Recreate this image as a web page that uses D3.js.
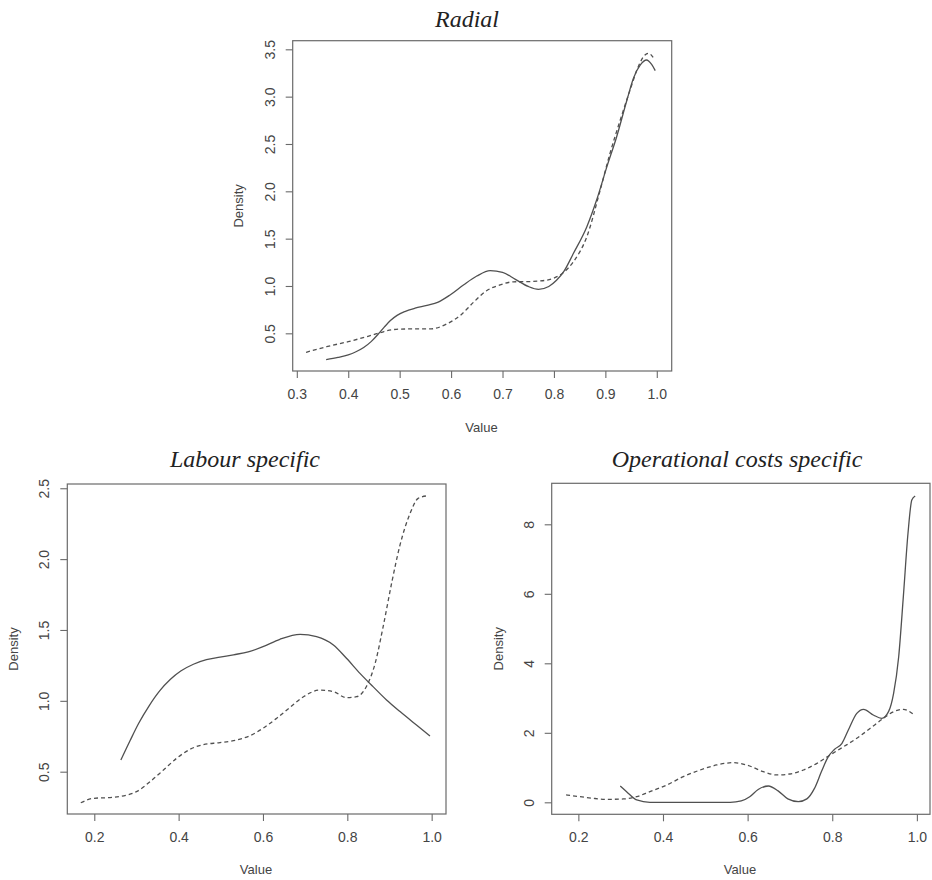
<!DOCTYPE html>
<html>
<head>
<meta charset="utf-8">
<script src="https://cdn.jsdelivr.net/npm/d3@7"></script>
<style>
  html, body { margin: 0; padding: 0; background: #fff; }
  svg { display: block; }
</style>
</head>
<body>
<svg id="chart" width="932" height="880"></svg>
<script>
// ---------------- DATA ----------------
const chartTitles = ["Radial", "Labour specific", "Operational costs specific"];
const xAxisLabel = "Value";
const yAxisLabel = "Density";

const radialXTicks = [0.3, 0.4, 0.5, 0.6, 0.7, 0.8, 0.9, 1.0];
const radialYTicks = [0.5, 1.0, 1.5, 2.0, 2.5, 3.0, 3.5];
const labourXTicks = [0.2, 0.4, 0.6, 0.8, 1.0];
const labourYTicks = [0.5, 1.0, 1.5, 2.0, 2.5];
const opXTicks = [0.2, 0.4, 0.6, 0.8, 1.0];
const opYTicks = [0, 2, 4, 6, 8];

// Radial — solid curve
const radialSolid = [
  [0.357,0.222],[0.380,0.245],[0.400,0.272],[0.415,0.305],[0.430,0.350],[0.445,0.415],
  [0.458,0.490],[0.470,0.565],[0.482,0.635],[0.495,0.690],[0.510,0.730],[0.530,0.765],
  [0.553,0.795],[0.575,0.830],[0.598,0.905],[0.624,1.010],[0.650,1.105],[0.676,1.162],
  [0.700,1.145],[0.725,1.070],[0.750,0.995],[0.770,0.965],[0.790,0.995],[0.805,1.060],
  [0.820,1.160],[0.838,1.345],[0.864,1.627],[0.883,1.908],[0.903,2.261],[0.922,2.577],
  [0.942,2.965],[0.955,3.200],[0.968,3.335],[0.980,3.387],[0.990,3.340],[0.997,3.275]
];
// Radial — dashed curve
const radialDashed = [
  [0.318,0.299],[0.358,0.359],[0.400,0.412],[0.436,0.465],[0.462,0.507],[0.488,0.540],
  [0.514,0.546],[0.559,0.546],[0.592,0.600],[0.618,0.690],[0.644,0.830],[0.669,0.950],
  [0.695,1.011],[0.721,1.044],[0.747,1.046],[0.773,1.053],[0.799,1.081],[0.818,1.140],
  [0.838,1.257],[0.864,1.521],[0.890,2.014],[0.909,2.401],[0.929,2.754],[0.948,3.070],
  [0.964,3.317],[0.977,3.440],[0.984,3.458],[0.994,3.405]
];
// Labour specific — solid curve
const labourSolid = [
  [0.263,0.582],[0.285,0.720],[0.305,0.840],[0.330,0.965],[0.355,1.070],[0.380,1.150],
  [0.405,1.210],[0.435,1.258],[0.466,1.290],[0.498,1.308],[0.530,1.325],[0.565,1.345],
  [0.600,1.382],[0.640,1.434],[0.688,1.469],[0.727,1.453],[0.767,1.394],[0.798,1.300],
  [0.830,1.194],[0.861,1.100],[0.893,1.006],[0.925,0.924],[0.964,0.829],[0.996,0.752]
];
// Labour specific — dashed curve
const labourDashed = [
  [0.168,0.281],[0.198,0.312],[0.245,0.319],[0.277,0.335],[0.300,0.359],[0.332,0.429],
  [0.364,0.512],[0.395,0.594],[0.427,0.658],[0.458,0.691],[0.498,0.705],[0.530,0.719],
  [0.569,0.754],[0.600,0.806],[0.632,0.876],[0.664,0.954],[0.696,1.029],[0.735,1.076],
  [0.767,1.065],[0.798,1.022],[0.822,1.029],[0.846,1.105],[0.866,1.265],[0.885,1.524],
  [0.905,1.829],[0.925,2.100],[0.949,2.324],[0.968,2.429],[0.988,2.446]
];
// Operational costs specific — solid curve
const opSolid = [
  [0.299,0.47],[0.314,0.307],[0.338,0.067],[0.369,0.0],[0.450,0.0],[0.559,0.0],
  [0.585,0.04],[0.605,0.16],[0.625,0.37],[0.649,0.47],[0.672,0.33],[0.695,0.10],
  [0.720,0.02],[0.740,0.10],[0.758,0.40],[0.775,0.90],[0.790,1.30],[0.805,1.52],
  [0.823,1.698],[0.838,2.08],[0.858,2.56],[0.874,2.676],[0.897,2.513],[0.917,2.417],
  [0.933,2.609],[0.945,3.137],[0.957,4.19],[0.968,5.918],[0.979,7.741],[0.988,8.7],[0.996,8.815]
];
// Operational costs specific — dashed curve
const opDashed = [
  [0.171,0.211],[0.204,0.163],[0.235,0.115],[0.267,0.086],[0.306,0.096],[0.338,0.163],
  [0.369,0.307],[0.409,0.499],[0.448,0.739],[0.488,0.93],[0.527,1.074],[0.566,1.141],
  [0.598,1.074],[0.637,0.883],[0.669,0.787],[0.700,0.815],[0.732,0.93],[0.764,1.122],
  [0.795,1.362],[0.827,1.602],[0.858,1.842],[0.890,2.13],[0.921,2.417],[0.945,2.609],
  [0.968,2.676],[0.992,2.532]
];

// ---------------- LAYOUT ----------------
const svg = d3.select("#chart");
const lineColor = "#505050";
const axisColor = "#6a6a6a";
const textColor = "#444";

const panels = [
  { title: chartTitles[0], box: {l: 292.7, r: 671.7, t: 40.7, b: 371},
    xDom: [0.292, 1.029], yDom: [0.102, 3.591],
    xTicks: radialXTicks, yTicks: radialYTicks, yFmt: d3.format(".1f"), xFmt: d3.format(".1f"),
    solid: radialSolid, dashed: radialDashed,
    titlePos: [467, 26.5], valuePos: [481.5, 432], densityX: 238 },
  { title: chartTitles[1], box: {l: 67.3, r: 446, t: 484, b: 814},
    xDom: [0.136, 1.034], yDom: [0.2015, 2.53],
    xTicks: labourXTicks, yTicks: labourYTicks, yFmt: d3.format(".1f"), xFmt: d3.format(".1f"),
    solid: labourSolid, dashed: labourDashed,
    titlePos: [245, 467], valuePos: [256, 873.5], densityX: 13 },
  { title: chartTitles[2], box: {l: 551.7, r: 930, t: 483.3, b: 814.3},
    xDom: [0.137, 1.031], yDom: [-0.345, 9.18],
    xTicks: opXTicks, yTicks: opYTicks, yFmt: d3.format("d"), xFmt: d3.format(".1f"),
    solid: opSolid, dashed: opDashed,
    titlePos: [737, 467], valuePos: [740, 873.5], densityX: 498 }
];

panels.forEach(p => {
  const g = svg.append("g");
  const x = d3.scaleLinear().domain(p.xDom).range([p.box.l, p.box.r]);
  const y = d3.scaleLinear().domain(p.yDom).range([p.box.b, p.box.t]);

  // box
  g.append("rect")
    .attr("x", p.box.l).attr("y", p.box.t)
    .attr("width", p.box.r - p.box.l).attr("height", p.box.b - p.box.t)
    .attr("fill", "none").attr("stroke", axisColor).attr("stroke-width", 1.2);

  // x axis
  const xa = g.append("g").attr("transform", `translate(0,${p.box.b})`)
    .call(d3.axisBottom(x).tickValues(p.xTicks).tickFormat(p.xFmt).tickSize(7).tickPadding(11));
  xa.select(".domain").remove();
  xa.selectAll(".tick line").attr("stroke", axisColor).attr("stroke-width", 1.1);
  xa.selectAll(".tick text").attr("fill", textColor)
    .style("font-family", "'Liberation Sans', Arial, sans-serif").style("font-size", "14px");

  // y axis
  const ya = g.append("g").attr("transform", `translate(${p.box.l},0)`)
    .call(d3.axisLeft(y).tickValues(p.yTicks).tickFormat(p.yFmt).tickSize(7));
  ya.select(".domain").remove();
  ya.selectAll(".tick line").attr("stroke", axisColor).attr("stroke-width", 1.1);
  ya.selectAll(".tick text")
    .attr("fill", textColor)
    .attr("x", null).attr("dy", null)
    .attr("text-anchor", "middle")
    .attr("transform", "translate(-18,0) rotate(-90)")
    .style("font-family", "'Liberation Sans', Arial, sans-serif").style("font-size", "14px");

  // curves
  const line = d3.line().x(d => x(d[0])).y(d => y(d[1])).curve(d3.curveMonotoneX);
  g.append("path").datum(p.solid).attr("d", line)
    .attr("fill", "none").attr("stroke", lineColor).attr("stroke-width", 1.3);
  g.append("path").datum(p.dashed).attr("d", line)
    .attr("fill", "none").attr("stroke", lineColor).attr("stroke-width", 1.3)
    .attr("stroke-dasharray", "4,3");

  // labels
  g.append("text").attr("x", p.titlePos[0]).attr("y", p.titlePos[1])
    .attr("text-anchor", "middle")
    .style("font-family", "'Liberation Serif', 'Times New Roman', serif")
    .style("font-style", "italic").style("font-size", "24px").attr("fill", "#222")
    .text(p.title);
  g.append("text").attr("x", p.valuePos[0]).attr("y", p.valuePos[1])
    .attr("text-anchor", "middle").attr("fill", textColor)
    .style("font-family", "'Liberation Sans', Arial, sans-serif").style("font-size", "13px")
    .text(xAxisLabel);
  const cy = (p.box.t + p.box.b) / 2;
  g.append("text")
    .attr("transform", `translate(${p.densityX + 4.5},${cy}) rotate(-90)`)
    .attr("text-anchor", "middle").attr("fill", textColor)
    .style("font-family", "'Liberation Sans', Arial, sans-serif").style("font-size", "13px")
    .text(yAxisLabel);
});
</script>
</body>
</html>
